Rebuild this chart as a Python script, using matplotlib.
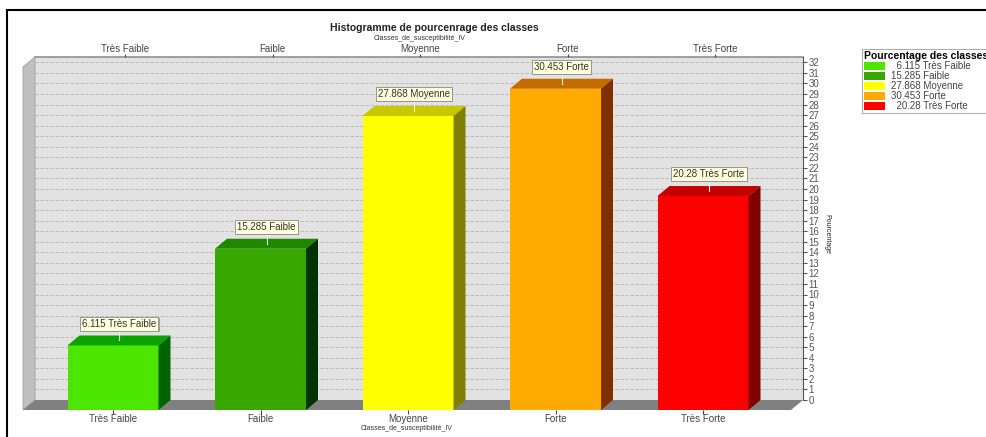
import matplotlib
matplotlib.use('Agg')
from matplotlib import pyplot as plt
from matplotlib.patches import Rectangle, Polygon, Patch
import numpy as np

plt.rcParams['font.family'] = ['Liberation Sans', 'DejaVu Sans']

# data
classes = ['Très Faible', 'Faible', 'Moyenne', 'Forte', 'Très Forte']
values = [6.115, 15.285, 27.868, 30.453, 20.28]
legend_labels = ['  6.115 Très Faible', '15.285 Faible', '27.868 Moyenne',
                 '30.453 Forte', '  20.28 Très Forte']
front_colors = ['#4ce600', '#38a800', '#ffff00', '#ffaa00', '#ff0000']
top_colors = ['#0aa300', '#1e8800', '#c8c800', '#c46c00', '#c40000']
side_colors = ['#006400', '#003300', '#808000', '#803000', '#800000']

W, H = 987, 437
fig = plt.figure(figsize=(W / 100, H / 100), dpi=100)

# outer frame (cut off on the right and bottom like the screenshot)
fig.patches.append(Rectangle((7 / W, -0.1), 1.2, 1 - 10 / H + 0.1, transform=fig.transFigure,
                             fill=False, ec='black', lw=1.5))

# axes box: front-left corner of floor to back-right top of wall
left, right, top, bottom = 23, 803, 57, 410
ax = fig.add_axes([left / W, (H - bottom) / H, (right - left) / W, (bottom - top) / H])
ax.set_facecolor('none')

x = np.arange(len(classes))
ppx = 147.5          # pixels per category
ppy = 10.55          # pixels per percent
xmin, xmax = (left - 113) / ppx, (right - 113) / ppx
dx = 12 / ppx        # depth offset
dy = 10 / ppy
ymin, ymax = -dy, (400 - top) / ppy
ax.set_xlim(xmin, xmax)
ax.set_ylim(ymin, ymax)
w = 91 / ppx

# back wall + grid
ax.add_patch(Rectangle((xmin + dx, 0), xmax - xmin - dx, ymax, fc='#e2e2e2', ec='none', zorder=0))
for g in range(1, 33):
    ax.plot([xmin + dx, xmax], [g, g], ls=(0, (4, 2)), color='#b4b4b4', lw=0.6, zorder=1)
ax.plot([xmin + dx, xmax], [ymax, ymax], color='#909090', lw=1.2, zorder=1, clip_on=False)

# left wall and floor
ax.add_patch(Polygon([(xmin, -dy), (xmin + dx, 0), (xmin + dx, ymax), (xmin, ymax - dy)],
                     closed=True, fc='#c0c0c0', ec='#a0a0a0', lw=0.6, zorder=1, clip_on=False))
ax.add_patch(Polygon([(xmin, -dy), (xmin + dx, 0), (xmax, 0), (xmax - dx, -dy)],
                     closed=True, fc='#808080', ec='none', zorder=1, clip_on=False))

# 3d bars
for i, v in enumerate(values):
    x0, x1 = x[i] - w / 2, x[i] + w / 2
    ax.add_patch(Rectangle((x0, -dy), w, v, fc=front_colors[i], ec='none', zorder=3))
    ax.add_patch(Polygon([(x0, v - dy), (x0 + dx, v), (x1 + dx, v), (x1, v - dy)],
                         closed=True, fc=top_colors[i], ec='none', zorder=3))
    ax.add_patch(Polygon([(x1, -dy), (x1 + dx, 0), (x1 + dx, v), (x1, v - dy)],
                         closed=True, fc=side_colors[i], ec='none', zorder=3))
    # value label
    xc = x[i] + dx / 2
    ax.plot([xc, xc], [v - dy / 2, v + 0.4], color='#f0f0f0', lw=0.8, zorder=4)
    ax.text(xc + 0.01, v + 0.55, f'{v:g} {classes[i]}', ha='center', va='bottom', fontsize=7,
            color='#333333', zorder=4,
            bbox=dict(boxstyle='square,pad=0.2', fc='#777777', ec='none', alpha=0.6))
    ax.text(xc, v + 0.65, f'{v:g} {classes[i]}', ha='center', va='bottom', fontsize=7,
            color='#333333', zorder=5,
            bbox=dict(boxstyle='square,pad=0.2', fc='#ffffdc', ec='#8a8a8a', lw=0.6))

# axes styling
for s in ['left', 'top', 'bottom']:
    ax.spines[s].set_visible(False)
ax.spines['right'].set_bounds(0, ymax)
ax.spines['right'].set_color('#555555')
ax.yaxis.tick_right()
ax.set_yticks(range(0, 33))
ax.tick_params(axis='y', direction='out', length=3, pad=1, labelsize=7, colors='#555555')
ax.yaxis.set_label_position('right')
ax.set_ylabel('Pourcentage', rotation=-90, fontsize=5, labelpad=8, color='#222222')

ax.set_xticks(x)
ax.set_xticklabels(classes)
ax.tick_params(axis='x', direction='out', length=3, pad=0, labelsize=7, colors='#444444')

ax2 = ax.twiny()
ax2.set_xlim(xmin, xmax)
ax2.set_xticks(x + dx)
ax2.set_xticklabels(classes)
ax2.tick_params(axis='x', direction='out', length=2, pad=0, labelsize=7, colors='#444444')
for s in ax2.spines.values():
    s.set_visible(False)

fig.text(434 / W, 1 - 28 / H, 'Histogramme de pourcenrage des classes', ha='center', va='center',
         fontsize=7.5, fontweight='bold', color='#222222')
fig.text(420 / W, 1 - 39 / H, 'Classes_de_susceptibilité_IV', ha='center', va='center',
         fontsize=5, color='#333333')
fig.text(407 / W, 1 - 429 / H, 'Classes_de_susceptibilité_IV', ha='center', va='center',
         fontsize=5, color='#333333')

handles = [Patch(fc=c, ec='none') for c in front_colors]
leg = fig.legend(handles, legend_labels, loc='upper left', bbox_to_anchor=(862 / W, 1 - 49 / H),
                 title='Pourcentage des classes', title_fontproperties={'weight': 'bold', 'size': 7.5},
                 alignment='left', fontsize=7, frameon=True, fancybox=False, edgecolor='#999999',
                 handlelength=2.2, handleheight=0.9, handletextpad=0.6, labelspacing=0.0,
                 borderpad=0.2, borderaxespad=0)
for t in leg.get_texts():
    t.set_color('#444444')
leg.get_frame().set_linewidth(0.8)

fig.savefig('out.png', dpi=100)
